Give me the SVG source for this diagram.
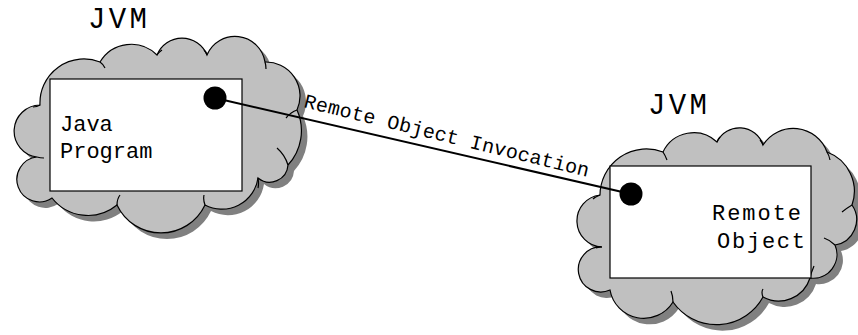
<svg xmlns="http://www.w3.org/2000/svg" width="858" height="335" viewBox="0 0 858 335">
<style>
.cloud{fill:#c0c0c0;stroke:#000;stroke-width:1.2}
.shadow{fill:#808080;stroke:none}
.lobe{fill:none;stroke:#000;stroke-width:1.2}
.box{fill:#fff;stroke:#000;stroke-width:1.2}
.t{font-family:"Liberation Mono","DejaVu Sans Mono",monospace;fill:#000}
.jvm{font-size:29px}
.lbl{font-size:22px}
.conn{stroke:#000;stroke-width:2;fill:none}
.dot{fill:#000}
</style>
<defs>
<path id="cloudL" d="M40,105 A44,44 0 0 1 100,62 A36.4,36.4 0 0 1 157,55 A26.9,26.9 0 0 1 207,55 A30.4,30.4 0 0 1 265,62 A34,34 0 0 1 297,110 A50.6,50.6 0 0 1 288,165 A18.4,18.4 0 0 1 258,178 A36.4,36.4 0 0 1 205,205 A48.6,48.6 0 0 1 117,205 A45.7,45.7 0 0 1 52,198 A22.5,22.5 0 1 1 37,157 A26.1,26.1 0 0 1 40,105 Z"/>
<path id="cloudR" d="M600,195 A46.4,46.4 0 0 1 663,152 A34,34 0 0 1 717,142 A24.8,24.8 0 0 1 763,145 A35.9,35.9 0 0 1 827,152 A41.8,41.8 0 0 1 852,205 A25.7,25.7 0 0 1 835,245 A23.8,23.8 0 0 1 810,278 A32.8,32.8 0 0 1 763,297 A53,53 0 0 1 673,302 A34.3,34.3 0 0 1 610,290 A22.5,22.5 0 1 1 602,247 A26.1,26.1 0 0 1 600,195 Z"/>
</defs>
<g id="jvm-left">
<use href="#cloudL" class="shadow" transform="translate(6,6)"/>
<use href="#cloudL" class="cloud"/>
<path class="lobe" d="M40,105 q-3,2 -7,2 M100,62 q3,2 5,6 M157,55 q2,-3 5,-5 M207,55 q-1,-3 -3,-5 M265,62 q1,3 1,7 M297,110 q-6,2 -11,8 M288,165 q-3,-10 -11,-17 M258,178 q1,6 0,10 M205,205 q-2,-5 -1,-10 M117,205 q0,-6 3,-10 M37,157 q3,1 7,1"/>
<rect class="box" x="50" y="79" width="192" height="112"/>
<text class="t jvm" x="88" y="28" textLength="59" lengthAdjust="spacing">JVM</text>
<text class="t lbl" x="60" y="131">Java</text>
<text class="t lbl" x="60" y="158">Program</text>
</g>
<g id="jvm-right">
<use href="#cloudR" class="shadow" transform="translate(6,6)"/>
<use href="#cloudR" class="cloud"/>
<path class="lobe" d="M600,195 q-5,2 -7,4 M663,152 q2,3 4,8 M717,142 q1,-3 3,-5 M763,145 q-1,-3 -3,-5 M827,152 q2,3 3,8 M852,205 q-5,3 -10,7 M835,245 q-5,-5 -11,-7 M810,278 q1,-5 4,-12 M763,297 q-2,-5 0,-8 M673,302 q0,-6 -2,-11 M602,247 q-3,0 -6,1"/>
<rect class="box" x="610" y="166" width="201" height="112"/>
<text class="t jvm" x="648" y="114" textLength="59" lengthAdjust="spacing">JVM</text>
<text class="t lbl" x="712" y="220" textLength="89" lengthAdjust="spacing">Remote</text>
<text class="t lbl" x="717" y="248" textLength="88" lengthAdjust="spacing">Object</text>
</g>
<g id="connectors">
<line class="conn" x1="215" y1="98" x2="631" y2="194"/>
<circle class="dot" cx="215" cy="98" r="11.5"/>
<circle class="dot" cx="631" cy="194" r="11.5"/>
<text class="t" font-size="20" transform="translate(303,107) rotate(13.8)" textLength="293" lengthAdjust="spacing">Remote Object Invocation</text>
</g>
</svg>
